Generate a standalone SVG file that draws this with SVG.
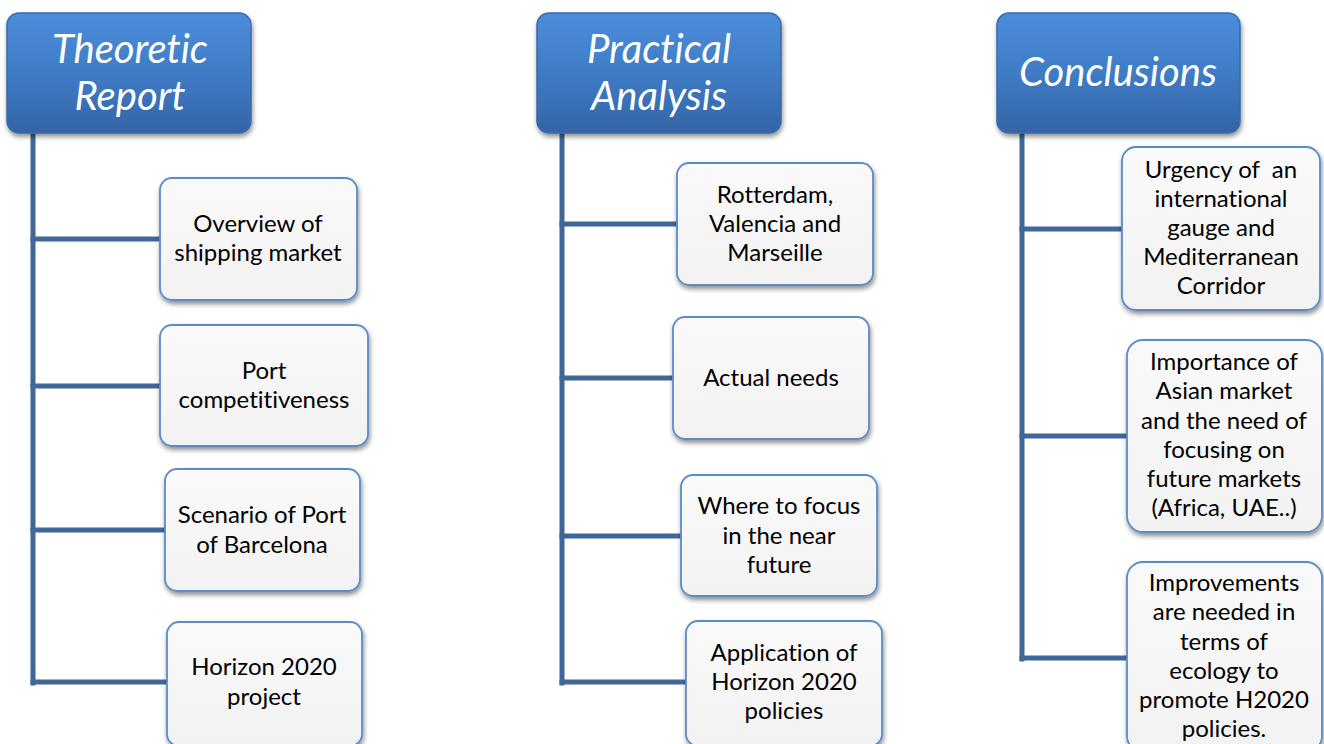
<svg xmlns="http://www.w3.org/2000/svg" width="1324" height="744" viewBox="0 0 1324 744">
<defs>
<linearGradient id="hdr" x1="0" y1="0" x2="0" y2="1">
<stop offset="0" stop-color="#4C8DDB"/>
<stop offset="0.5" stop-color="#3F7CC6"/>
<stop offset="1" stop-color="#3464A6"/>
</linearGradient>
<linearGradient id="box" x1="0" y1="0" x2="0" y2="1">
<stop offset="0" stop-color="#FAFAFA"/>
<stop offset="1" stop-color="#F2F2F2"/>
</linearGradient>
<filter id="sh" x="-10%" y="-10%" width="125%" height="130%">
<feGaussianBlur in="SourceAlpha" stdDeviation="2.5"/>
<feOffset dx="1" dy="3" result="b"/>
<feComponentTransfer><feFuncA type="linear" slope="0.45"/></feComponentTransfer>
<feMerge><feMergeNode/><feMergeNode in="SourceGraphic"/></feMerge>
</filter>
</defs>
<style>
text{font-variant-ligatures:none}
.hdr rect{fill:url(#hdr);stroke:#3A6AA8;stroke-width:1.5;filter:url(#sh)}
.hdr text{font-family:Lato,"Liberation Sans",sans-serif;font-style:italic;font-size:40px;fill:#FFFFFF;text-anchor:middle}
.node rect{fill:url(#box);stroke:#5A8CC8;stroke-width:1.8;filter:url(#sh)}
.node text{font-family:Lato,"Liberation Sans",sans-serif;font-size:24px;fill:#000000;text-anchor:middle}
.conn line{stroke:#41679A;stroke-width:5;stroke-linecap:square}
</style>
<rect width="1324" height="744" fill="#FFFFFF"/>

<g id="connectors" class="conn">
<line x1="33" y1="133" x2="33" y2="683"/>
<line x1="33" y1="239" x2="160" y2="239"/>
<line x1="33" y1="386" x2="160" y2="386"/>
<line x1="33" y1="530" x2="165" y2="530"/>
<line x1="33" y1="682" x2="167" y2="682"/>

<line x1="562" y1="133" x2="562" y2="683"/>
<line x1="562" y1="224" x2="677" y2="224"/>
<line x1="562" y1="378" x2="673" y2="378"/>
<line x1="562" y1="536" x2="681" y2="536"/>
<line x1="562" y1="682" x2="686" y2="682"/>

<line x1="1022" y1="133" x2="1022" y2="659"/>
<line x1="1022" y1="229" x2="1122" y2="229"/>
<line x1="1022" y1="436" x2="1127" y2="436"/>
<line x1="1022" y1="658" x2="1127" y2="658"/>
</g>

<g id="h1" class="hdr">
<rect x="7" y="13" width="244" height="120" rx="12"/>
<text x="130" y="63">Theoretic</text>
<text x="130" y="110">Report</text>
</g>
<g id="h2" class="hdr">
<rect x="537" y="13" width="244" height="120" rx="12"/>
<text x="659" y="63">Practical</text>
<text x="659" y="110">Analysis</text>
</g>
<g id="h3" class="hdr">
<rect x="997" y="13" width="243" height="120" rx="12"/>
<text x="1118" y="86">Conclusions</text>
</g>

<g id="n1" class="node">
<rect x="160" y="178" width="197" height="122" rx="12"/>
<text x="258" y="232">Overview of</text>
<text x="258" y="261">shipping market</text>
</g>
<g id="n2" class="node">
<rect x="160" y="325" width="208" height="121" rx="12"/>
<text x="264" y="379">Port</text>
<text x="264" y="408">competitiveness</text>
</g>
<g id="n3" class="node">
<rect x="165" y="469" width="195" height="122" rx="12"/>
<text x="262" y="523">Scenario of Port</text>
<text x="262" y="553">of Barcelona</text>
</g>
<g id="n4" class="node">
<rect x="167" y="622" width="195" height="124" rx="12"/>
<text x="264" y="675">Horizon 2020</text>
<text x="264" y="705">project</text>
</g>

<g id="n5" class="node">
<rect x="677" y="163" width="196" height="122" rx="12"/>
<text x="775" y="203">Rotterdam,</text>
<text x="775" y="232">Valencia and</text>
<text x="775" y="261">Marseille</text>
</g>
<g id="n6" class="node">
<rect x="673" y="317" width="196" height="122" rx="12"/>
<text x="771" y="386">Actual needs</text>
</g>
<g id="n7" class="node">
<rect x="681" y="475" width="196" height="121" rx="12"/>
<text x="779" y="514">Where to focus</text>
<text x="779" y="544">in the near</text>
<text x="779" y="573">future</text>
</g>
<g id="n8" class="node">
<rect x="686" y="621" width="196" height="125" rx="12"/>
<text x="784" y="661">Application of</text>
<text x="784" y="690">Horizon 2020</text>
<text x="784" y="719">policies</text>
</g>

<g id="n9" class="node">
<rect x="1122" y="147" width="198" height="163" rx="14"/>
<text x="1221" y="178">Urgency of&#160; an</text>
<text x="1221" y="207">international</text>
<text x="1221" y="236">gauge and</text>
<text x="1221" y="265">Mediterranean</text>
<text x="1221" y="294">Corridor</text>
</g>
<g id="n10" class="node">
<rect x="1127" y="340" width="195" height="192" rx="16"/>
<text x="1224" y="370">Importance of</text>
<text x="1224" y="399">Asian market</text>
<text x="1224" y="429">and the need of</text>
<text x="1224" y="458">focusing on</text>
<text x="1224" y="487">future markets</text>
<text x="1224" y="516">(Africa, UAE..)</text>
</g>
<g id="n11" class="node">
<rect x="1127" y="562" width="195" height="190" rx="16"/>
<text x="1224" y="591">Improvements</text>
<text x="1224" y="620">are needed in</text>
<text x="1224" y="650">terms of</text>
<text x="1224" y="679">ecology to</text>
<text x="1224" y="708">promote H2020</text>
<text x="1224" y="737">policies.</text>
</g>
</svg>
